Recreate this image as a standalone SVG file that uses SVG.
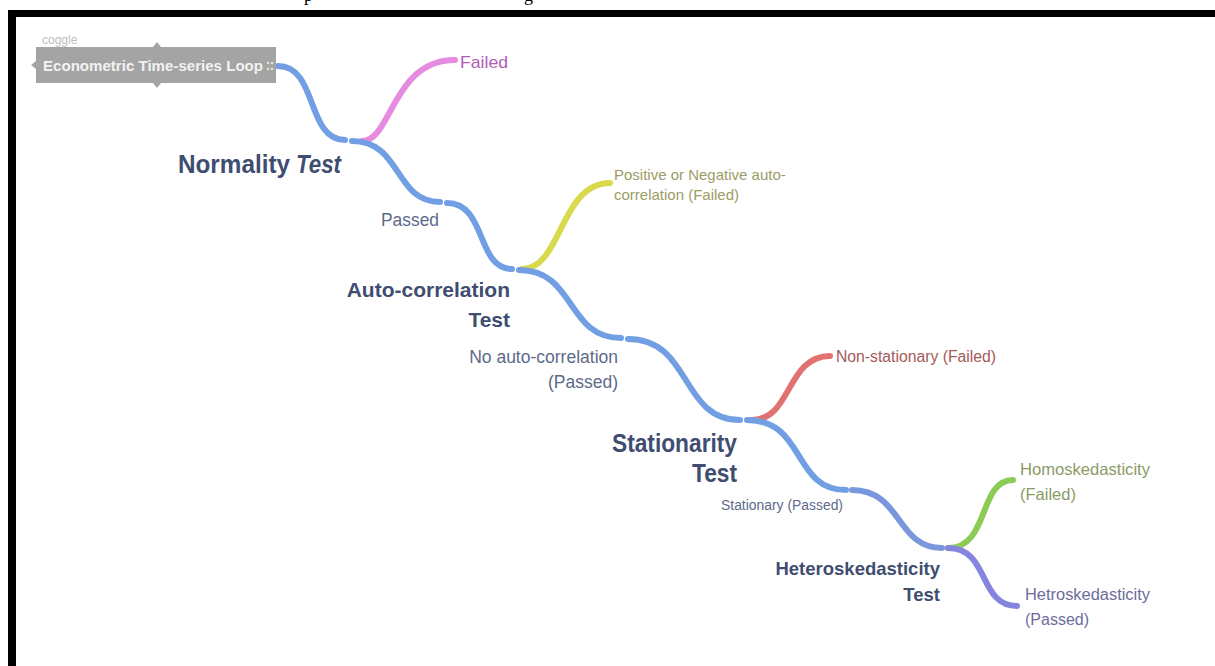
<svg xmlns="http://www.w3.org/2000/svg" width="1215" height="666" viewBox="0 0 1215 666">
<style>
.bg{fill:#ffffff}
.frame{fill:#000000}
.br{fill:none;stroke-width:6;stroke-linecap:round}
.main{stroke:#729fe3}
.head{font-family:"Liberation Sans",Arial,sans-serif;font-weight:bold;fill:#3f4d70}
.lbl{font-family:"Liberation Sans",Arial,sans-serif;fill:#5d6a8a}
.cap{font-family:"Liberation Serif","Times New Roman",serif;fill:#000}
</style>
<rect class="bg" x="0" y="0" width="1215" height="666"/>
<text class="cap" x="304" y="1" font-size="18">p</text>
<text class="cap" x="524" y="1" font-size="18">g</text>
<rect class="frame" x="8" y="10" width="1207" height="7"/>
<rect class="frame" x="8" y="10" width="8" height="656"/>

<g id="connectors">
  <path class="br main" d="M278,66 C318,66 306,140 345,140"/>
  <path class="br" stroke="#e58be0" d="M362,141 C392,141 392,60 455,60"/>
  <path class="br main" d="M352,141 C402,141 394,202 440,202"/>
  <path class="br main" d="M447,203 C487,203 476,269 512,269"/>
  <path class="br" stroke="#d9d94c" d="M522,269 C562,269 560,183 610,183"/>
  <path class="br main" d="M519,270 C576,270 566,338 621,338"/>
  <path class="br main" d="M628,339 C692,339 680,420 740,420"/>
  <path class="br" stroke="#e27272" d="M752,420 C792,420 786,356 830,356"/>
  <path class="br main" d="M747,420 C806,420 792,490 846,490"/>
  <path class="br" stroke="#7a96dc" d="M852,490 C902,490 896,548 942,548"/>
  <path class="br" stroke="#8ccb55" d="M948,548 C990,548 978,480 1013,480"/>
  <path class="br" stroke="#8585e0" d="M948,548 C990,548 978,606 1017,606"/>
</g>

<g id="root">
  <text x="42" y="44" font-family="Liberation Sans,Arial,sans-serif" font-size="12" fill="#bdbdbd">coggle</text>
  <rect x="36" y="47" width="240" height="36" fill="#a4a4a4"/>
  <path d="M36,61 L31,65 L36,69 Z M153,47 L157,42 L161,47 Z M153,83 L157,88 L161,83 Z" fill="#a4a4a4"/>
  <text x="43" y="71" font-family="Liberation Sans,Arial,sans-serif" font-weight="bold" font-size="15" fill="#f2f2f2" textLength="220" lengthAdjust="spacingAndGlyphs">Econometric Time-series Loop</text>
  <circle cx="268" cy="63" r="1.2" fill="#e6e6e6"/><circle cx="268" cy="69" r="1.2" fill="#e6e6e6"/>
  <circle cx="272" cy="63" r="1.2" fill="#e6e6e6"/><circle cx="272" cy="69" r="1.2" fill="#e6e6e6"/>
</g>

<g id="normality">
  <text class="head" x="178" y="173" font-size="25" textLength="112" lengthAdjust="spacingAndGlyphs">Normality</text>
  <text class="head" x="296" y="173" font-size="25" font-style="italic" textLength="45" lengthAdjust="spacingAndGlyphs">Test</text>
</g>
<g id="failed1">
  <text x="460" y="68" font-family="Liberation Sans,Arial,sans-serif" font-size="17" fill="#b15db4" textLength="48" lengthAdjust="spacingAndGlyphs">Failed</text>
</g>
<g id="passed1">
  <text class="lbl" x="381" y="226" font-size="18" textLength="58" lengthAdjust="spacingAndGlyphs">Passed</text>
</g>
<g id="autocorr">
  <text class="head" text-anchor="end" x="510" y="297" font-size="21">Auto-correlation</text>
  <text class="head" text-anchor="end" x="510" y="327" font-size="21">Test</text>
</g>
<g id="autocorr-failed">
  <text x="614" y="180" font-family="Liberation Sans,Arial,sans-serif" font-size="15" fill="#9c9c66">Positive or Negative auto-</text>
  <text x="614" y="200" font-family="Liberation Sans,Arial,sans-serif" font-size="15" fill="#9c9c66">correlation (Failed)</text>
</g>
<g id="autocorr-passed">
  <text class="lbl" text-anchor="end" x="618" y="363" font-size="17.5">No auto-correlation</text>
  <text class="lbl" text-anchor="end" x="618" y="388" font-size="17.5">(Passed)</text>
</g>
<g id="stationarity">
  <text class="head" x="612" y="452" font-size="25" textLength="125" lengthAdjust="spacingAndGlyphs">Stationarity</text>
  <text class="head" x="692" y="482" font-size="25" textLength="45" lengthAdjust="spacingAndGlyphs">Test</text>
</g>
<g id="nonstationary">
  <text x="836" y="362" font-family="Liberation Sans,Arial,sans-serif" font-size="16" fill="#a55a5a" textLength="160" lengthAdjust="spacingAndGlyphs">Non-stationary (Failed)</text>
</g>
<g id="stationary">
  <text class="lbl" x="721" y="510" font-size="14" textLength="122" lengthAdjust="spacingAndGlyphs">Stationary (Passed)</text>
</g>
<g id="hetero">
  <text class="head" text-anchor="end" x="940" y="575" font-size="18.5">Heteroskedasticity</text>
  <text class="head" text-anchor="end" x="940" y="601" font-size="18.5">Test</text>
</g>
<g id="homo-failed">
  <text x="1020" y="475" font-family="Liberation Sans,Arial,sans-serif" font-size="16.5" fill="#8a9b68" textLength="130" lengthAdjust="spacingAndGlyphs">Homoskedasticity</text>
  <text x="1020" y="500" font-family="Liberation Sans,Arial,sans-serif" font-size="16.5" fill="#8a9b68">(Failed)</text>
</g>
<g id="hetro-passed">
  <text x="1025" y="600" font-family="Liberation Sans,Arial,sans-serif" font-size="16" fill="#6c6c9c" textLength="125" lengthAdjust="spacingAndGlyphs">Hetroskedasticity</text>
  <text x="1025" y="625" font-family="Liberation Sans,Arial,sans-serif" font-size="16" fill="#6c6c9c">(Passed)</text>
</g>
</svg>
